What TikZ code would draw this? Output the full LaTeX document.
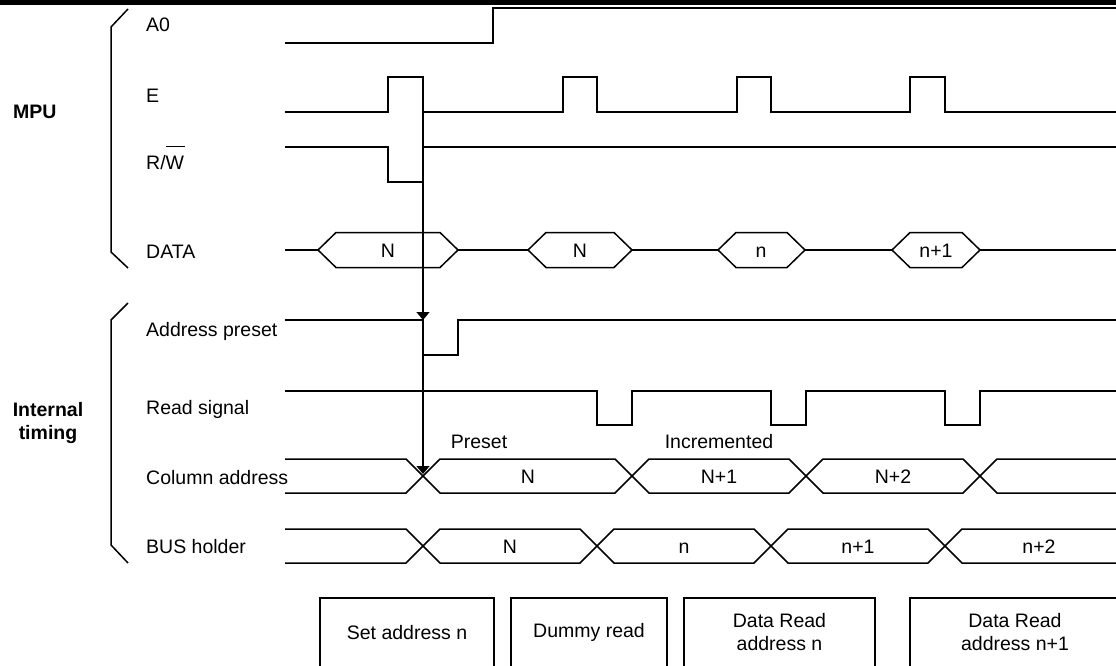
\documentclass[tikz,border=0pt]{standalone}
\usepackage{fontspec}
\setmainfont{Liberation Sans}
\usetikzlibrary{arrows.meta}

\begin{document}
\begin{tikzpicture}[
        x=1pt, y=-1pt,
        every node/.style={font=\fontsize{19.5}{23}\selectfont, inner sep=0pt},
        sig/.style={line width=1.5pt, line join=miter},
        lbl/.style={anchor=west, text height=14pt, text depth=0pt},
        val/.style={text height=14pt, text depth=0pt},
        group/.style={font=\fontsize{19.5}{23}\selectfont\bfseries, align=center},
        stepbox/.style={minimum height=68pt, anchor=north, align=center},
        arrow/.style={line width=1.5pt, -{Triangle[length=8pt,width=13pt]}}
    ]
        \useasboundingbox (0,0) rectangle (1116,666);
        \fill (0,0) rectangle (1116,4.7);

        % groups
        \node[group, anchor=west] (mpu) at (13,112) {MPU};
        \node[group] (internal) at (48,423) {Internal\\timing};
        \draw[sig] (128,9) -- (111,27) -- (111,252) -- (128,268);
        \draw[sig] (128,303) -- (111,320) -- (111,545) -- (128,563);

        % signal names
        \node[lbl] (a0-lbl) at (146,25) {A0};
        \node[lbl] (e-lbl) at (146,96) {E};
        \node[lbl] (rw-lbl) at (146,162) {R/\ooalign{W\cr\smash{\rule[22pt]{19pt}{1.4pt}}\cr}};
        \node[lbl] (data-lbl) at (146,251) {DATA};
        \node[lbl] (ap-lbl) at (146,329) {Address preset};
        \node[lbl] (rd-lbl) at (146,407) {Read signal};
        \node[lbl] (col-lbl) at (146,477) {Column address};
        \node[lbl] (bus-lbl) at (146,546) {BUS holder};

        % MPU side
        \draw[sig] (285,43) -- (493,43) -- (493,8) -- (1116,8);
        \draw[sig] (285,112) -- (388,112) -- (388,77) -- (423,77) -- (423,112)
            -- (563,112) -- (563,77) -- (597,77) -- (597,112)
            -- (737,112) -- (737,77) -- (771,77) -- (771,112)
            -- (910,112) -- (910,77) -- (945,77) -- (945,112) -- (1116,112);
        \draw[sig] (285,147) -- (388,147) -- (388,182) -- (423,182) -- (423,147) -- (1116,147);

        \draw[sig] (285,250) -- (318,250);
        \draw[sig] (318,250) -- (336,232.5) -- (440,232.5) -- (458,250) -- (440,267.5) -- (336,267.5) -- cycle;
        \draw[sig] (458,250) -- (528,250);
        \draw[sig] (528,250) -- (546,232.5) -- (614,232.5) -- (632,250) -- (614,267.5) -- (546,267.5) -- cycle;
        \draw[sig] (632,250) -- (718,250);
        \draw[sig] (718,250) -- (736,232.5) -- (787,232.5) -- (805,250) -- (787,267.5) -- (736,267.5) -- cycle;
        \draw[sig] (805,250) -- (892,250);
        \draw[sig] (892,250) -- (910,232.5) -- (962,232.5) -- (980,250) -- (962,267.5) -- (910,267.5) -- cycle;
        \draw[sig] (980,250) -- (1116,250);
        \node[val] (data-1) at (388,250) {N};
        \node[val] (data-2) at (580,250) {N};
        \node[val] (data-3) at (761,250) {n};
        \node[val] (data-4) at (936,250) {n+1};

        % internal side
        \draw[sig] (285,320) -- (423,320) -- (423,355) -- (458,355) -- (458,320) -- (1116,320);
        \draw[sig] (285,391) -- (597,391) -- (597,425) -- (632,425) -- (632,391)
            -- (771,391) -- (771,425) -- (806,425) -- (806,391)
            -- (945,391) -- (945,425) -- (980,425) -- (980,391) -- (1116,391);

        \draw[sig] (285,459) -- (406,459) -- (440,493) -- (615,493) -- (649,459) -- (789,459)
            -- (823,493) -- (963,493) -- (997,459) -- (1116,459);
        \draw[sig] (285,493) -- (406,493) -- (440,459) -- (615,459) -- (649,493) -- (789,493)
            -- (823,459) -- (963,459) -- (997,493) -- (1116,493);
        \node[val] (col-1) at (528,476) {N};
        \node[val] (col-2) at (719,476) {N+1};
        \node[val] (col-3) at (893,476) {N+2};
        \node[val] (preset) at (479,441) {Preset};
        \node[val] (incr) at (719,441) {Incremented};

        \draw[sig] (285,529) -- (406,529) -- (440,563) -- (580,563) -- (614,529) -- (754,529)
            -- (788,563) -- (928,563) -- (962,529) -- (1116,529);
        \draw[sig] (285,563) -- (406,563) -- (440,529) -- (580,529) -- (614,563) -- (754,563)
            -- (788,529) -- (928,529) -- (962,563) -- (1116,563);
        \node[val] (bus-1) at (510,546) {N};
        \node[val] (bus-2) at (684,546) {n};
        \node[val] (bus-3) at (858,546) {n+1};
        \node[val] (bus-4) at (1039,546) {n+2};

        % trigger
        \coordinate (e-fall) at (423,77);
        \coordinate (ap-hit) at (423,320);
        \coordinate (col-hit) at (423,474);
        \draw[arrow] (e-fall) -- (ap-hit);
        \draw[arrow] (ap-hit) -- (col-hit);

        % steps
        \node[stepbox, minimum width=174pt] (set) at (407,598) {Set address n};
        \node[stepbox, minimum width=156pt] (dummy) at (589,598) {Dummy read};
        \node[stepbox, minimum width=191pt] (read1) at (779.5,598) {Data Read\\address n};
        \node[stepbox, minimum width=210pt] (read2) at (1015,598) {Data Read\\address n+1};
        \draw[sig] (set.south west) |- (set.north east) -- (set.south east);
        \draw[sig] (dummy.south west) |- (dummy.north east) -- (dummy.south east);
        \draw[sig] (read1.south west) |- (read1.north east) -- (read1.south east);
        \draw[sig] (read2.south west) |- (read2.north east) -- (read2.south east);
\end{tikzpicture}
\end{document}
